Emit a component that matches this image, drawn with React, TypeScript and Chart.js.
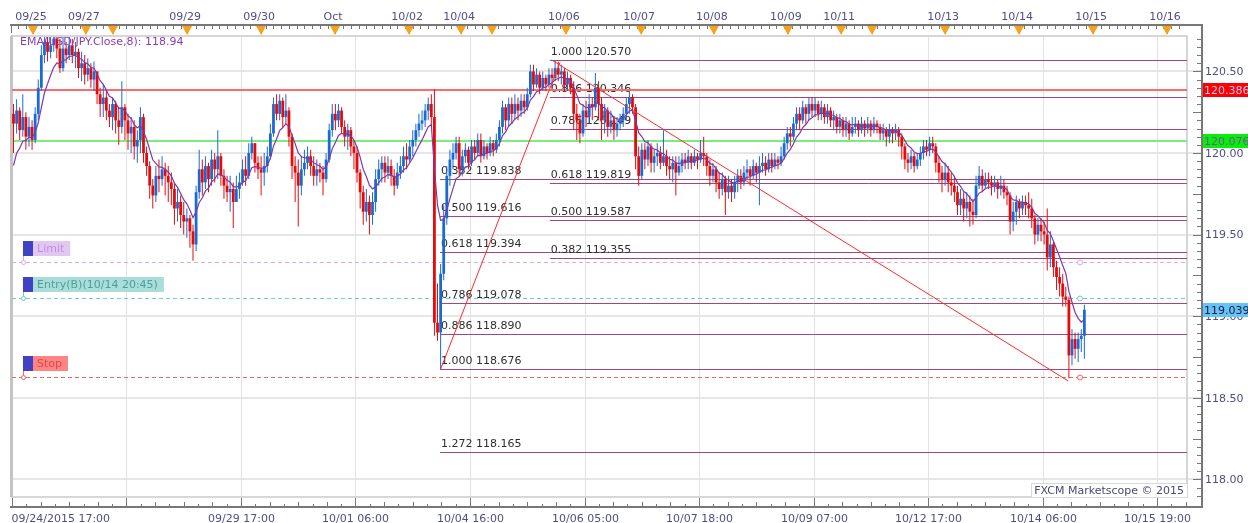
import React, { useEffect, useRef } from 'react';
import { Chart, registerables } from 'chart.js';
Chart.register(...registerables);

// ---------- DATA (USD/JPY hourly bars) ----------
const firstOpen = 120.24;
const closes = [
120.18,120.26,120.14,120.22,120.10,120.16,120.08,120.24,120.40,120.60,
120.68,120.62,120.66,120.70,120.64,120.52,120.64,120.60,120.66,120.60,
120.62,120.52,120.55,120.48,120.52,120.45,120.50,120.36,120.30,120.34,
120.26,120.22,120.30,120.20,120.16,120.28,120.20,120.12,120.16,120.04,
120.08,120.22,120.00,119.92,119.80,119.74,119.86,119.84,119.90,119.86,
119.82,119.78,119.66,119.70,119.62,119.58,119.60,119.52,119.44,119.76,
119.90,119.82,119.92,119.84,119.96,119.90,119.98,119.86,119.80,119.76,
119.78,119.70,119.78,119.82,119.90,119.86,120.00,120.06,119.94,119.90,
119.88,119.92,119.98,120.12,120.30,120.24,120.32,120.22,120.26,120.10,
119.92,119.88,119.80,119.90,119.94,119.98,119.92,119.86,119.90,119.88,
119.84,119.96,120.14,120.24,120.20,120.26,120.16,120.10,120.14,120.04,
120.00,119.88,119.76,119.64,119.70,119.62,119.70,119.84,119.90,119.94,
119.88,119.92,119.86,119.80,119.88,119.92,119.98,119.96,120.04,120.08,
120.14,120.18,120.20,120.26,120.30,120.22,118.96,118.90,119.26,119.60,
119.86,119.96,120.00,120.06,119.90,119.98,120.02,119.94,120.04,120.00,
120.08,119.98,120.04,120.00,120.06,120.02,120.08,120.16,120.28,120.20,
120.30,120.24,120.30,120.26,120.32,120.28,120.36,120.50,120.42,120.48,
120.40,120.46,120.42,120.48,120.46,120.52,120.48,120.50,120.42,120.46,
120.40,120.24,120.20,120.12,120.26,120.22,120.30,120.28,120.40,120.30,
120.20,120.26,120.16,120.20,120.14,120.18,120.20,120.24,120.30,120.34,
120.28,119.98,119.86,120.02,119.96,120.04,119.94,119.98,120.00,119.94,
119.98,119.92,119.90,119.94,119.88,119.92,119.96,119.94,119.98,119.94,
119.98,119.96,120.00,119.98,119.92,119.86,119.90,119.82,119.78,119.84,
119.76,119.80,119.76,119.82,119.86,119.82,119.88,119.90,119.86,119.92,
119.88,119.92,119.94,119.90,119.96,119.92,119.96,119.94,119.98,120.06,
120.12,120.10,120.18,120.24,120.20,120.28,120.24,120.30,120.26,120.30,
120.24,120.28,120.22,120.26,120.20,120.22,120.16,120.20,120.14,120.18,
120.12,120.16,120.18,120.14,120.18,120.15,120.18,120.14,120.18,120.16,
120.12,120.14,120.10,120.14,120.12,120.14,120.10,120.04,119.96,119.94,
119.98,119.92,119.96,120.00,120.04,120.02,120.06,120.04,119.94,119.88,
119.84,119.88,119.82,119.80,119.76,119.68,119.72,119.66,119.70,119.64,
119.62,119.80,119.86,119.80,119.84,119.82,119.80,119.82,119.78,119.80,
119.76,119.74,119.58,119.64,119.70,119.66,119.70,119.68,119.66,119.60,
119.50,119.56,119.52,119.50,119.36,119.44,119.30,119.24,119.20,119.12,
119.10,118.76,118.86,118.80,118.86,118.88,119.039];
const highs = [
120.30,120.33,120.28,120.36,120.25,120.22,120.20,120.28,120.45,120.66,
120.75,120.72,120.74,120.76,120.72,120.70,120.72,120.68,120.72,120.70,
120.68,120.64,120.62,120.60,120.58,120.55,120.56,120.50,120.40,120.42,
120.38,120.30,120.34,120.32,120.28,120.44,120.30,120.24,120.22,120.20,
120.14,120.28,120.24,120.04,119.95,119.84,119.92,119.96,119.98,119.94,
119.92,119.88,119.82,119.78,119.74,119.70,119.66,119.62,119.56,119.80,
120.02,119.96,119.98,119.94,120.02,120.00,120.14,120.00,119.90,119.86,
119.86,119.82,119.86,119.88,119.96,119.98,120.06,120.10,120.06,119.98,
119.98,120.00,120.04,120.18,120.34,120.36,120.36,120.34,120.36,120.28,
120.12,119.98,119.96,119.98,120.02,120.04,120.02,119.98,119.96,119.94,
119.92,120.00,120.18,120.30,120.30,120.30,120.28,120.20,120.18,120.16,
120.08,120.04,119.90,119.80,119.78,119.74,119.76,119.90,119.96,119.98,
119.98,119.98,119.96,119.90,119.94,119.98,120.04,120.06,120.08,120.14,
120.18,120.24,120.26,120.30,120.34,120.36,120.39,119.20,119.32,119.68,
119.92,120.02,120.06,120.10,120.10,120.02,120.06,120.04,120.08,120.08,
120.12,120.12,120.08,120.06,120.10,120.08,120.12,120.20,120.32,120.30,
120.34,120.34,120.36,120.34,120.36,120.36,120.40,120.54,120.54,120.52,
120.50,120.50,120.48,120.52,120.52,120.57,120.56,120.54,120.52,120.50,
120.48,120.44,120.30,120.24,120.30,120.32,120.36,120.34,120.49,120.44,
120.34,120.30,120.28,120.26,120.22,120.22,120.24,120.28,120.34,120.38,
120.36,120.30,120.04,120.06,120.06,120.08,120.06,120.02,120.06,120.04,
120.14,120.02,119.98,119.98,119.98,119.98,120.00,120.00,120.02,120.00,
120.02,120.00,120.08,120.10,120.00,119.96,119.94,119.92,119.88,119.88,
119.86,119.86,119.84,119.86,119.90,119.90,119.92,119.96,119.92,119.96,
119.94,119.98,120.00,119.98,120.00,120.00,120.00,119.98,120.04,120.10,
120.16,120.16,120.22,120.28,120.28,120.32,120.30,120.34,120.34,120.34,
120.32,120.32,120.30,120.30,120.28,120.26,120.24,120.24,120.22,120.22,
120.20,120.22,120.22,120.20,120.22,120.20,120.22,120.20,120.22,120.20,
120.18,120.18,120.16,120.18,120.16,120.18,120.16,120.12,120.06,120.00,
120.02,120.00,120.00,120.04,120.08,120.08,120.10,120.10,120.06,119.98,
119.92,119.94,119.92,119.88,119.86,119.80,119.78,119.76,119.76,119.74,
119.72,119.86,119.92,119.90,119.88,119.88,119.86,119.86,119.84,119.86,
119.84,119.80,119.76,119.70,119.74,119.72,119.74,119.74,119.76,119.72,
119.62,119.60,119.60,119.58,119.66,119.52,119.46,119.34,119.30,119.26,
119.18,119.12,118.92,118.90,118.90,118.92,119.07];
const lows = [
120.00,120.12,120.08,120.10,120.02,120.04,120.02,120.06,120.20,120.38,
120.55,120.56,120.58,120.62,120.58,120.49,120.50,120.55,120.57,120.55,
120.52,120.46,120.44,120.42,120.44,120.40,120.38,120.30,120.22,120.22,
120.20,120.16,120.14,120.12,120.05,120.12,120.08,120.02,120.00,119.96,
119.94,120.00,119.94,119.86,119.72,119.66,119.70,119.76,119.80,119.74,
119.70,119.68,119.56,119.58,119.54,119.50,119.48,119.42,119.34,119.40,
119.72,119.74,119.78,119.76,119.80,119.82,119.84,119.80,119.72,119.70,
119.64,119.54,119.70,119.72,119.80,119.80,119.84,119.96,119.88,119.84,
119.74,119.80,119.88,119.96,120.10,120.20,120.20,120.16,120.18,120.04,
119.84,119.70,119.55,119.74,119.86,119.90,119.86,119.80,119.80,119.82,
119.74,119.82,119.94,120.10,120.14,120.16,120.12,120.04,120.02,119.98,
119.90,119.82,119.66,119.56,119.58,119.50,119.56,119.64,119.80,119.82,
119.82,119.84,119.80,119.74,119.78,119.84,119.88,119.90,119.94,119.98,
120.04,120.10,120.14,120.16,120.20,120.16,118.88,118.85,118.676,119.22,
119.56,119.80,119.90,119.96,119.86,119.86,119.94,119.90,119.92,119.96,
119.98,119.94,119.96,119.96,119.98,119.98,120.00,120.04,120.12,120.14,
120.16,120.18,120.20,120.20,120.22,120.24,120.26,120.34,120.38,120.40,
120.36,120.38,120.38,120.40,120.40,120.44,120.44,120.42,120.38,120.38,
120.36,120.14,120.08,120.06,120.10,120.16,120.18,120.20,120.26,120.20,
120.08,120.12,120.10,120.12,120.08,120.10,120.14,120.16,120.20,120.24,
120.24,119.90,119.80,119.84,119.90,119.92,119.88,119.88,119.92,119.90,
119.92,119.86,119.84,119.82,119.74,119.86,119.88,119.90,119.90,119.90,
119.92,119.90,119.94,119.92,119.86,119.80,119.82,119.76,119.72,119.74,
119.62,119.72,119.70,119.72,119.76,119.78,119.80,119.84,119.80,119.84,
119.82,119.68,119.88,119.86,119.88,119.88,119.90,119.90,119.92,119.96,
120.02,120.04,120.08,120.14,120.14,120.18,120.18,120.20,120.22,120.22,
120.20,120.20,120.18,120.18,120.16,120.14,120.12,120.12,120.10,120.10,
120.08,120.10,120.12,120.10,120.12,120.10,120.12,120.10,120.12,120.12,
120.08,120.08,120.04,120.06,120.06,120.08,120.04,119.96,119.90,119.88,
119.90,119.88,119.90,119.92,119.96,119.98,119.98,120.00,119.88,119.82,
119.76,119.80,119.76,119.74,119.70,119.62,119.62,119.58,119.60,119.55,
119.56,119.60,119.78,119.76,119.78,119.78,119.74,119.76,119.72,119.74,
119.72,119.68,119.50,119.52,119.56,119.60,119.62,119.62,119.60,119.54,
119.44,119.46,119.46,119.44,119.28,119.30,119.24,119.16,119.12,119.06,
119.06,118.62,118.70,118.74,118.72,118.78,118.74];

const emaPeriod = 8;
const emaSeed = 119.85;
const emaLabel = 'EMA(USD/JPY.Close,8): 118.94';

const fibALevels = ['0.382', '0.500', '0.618', '0.786', '0.886', '1.000', '1.272'];
const fibAPrices = [119.838, 119.616, 119.394, 119.078, 118.890, 118.676, 118.165];
const fibAStartBar = 137.8;
const fibBLevels = ['1.000', '0.886', '0.786', '0.618', '0.500', '0.382'];
const fibBPrices = [120.570, 120.346, 120.149, 119.819, 119.587, 119.355];
const fibBStartBar = 173.3;
const trendA = [{ x: 138, y: 118.676 }, { x: 176.6, y: 120.556 }];
const trendB = [{ x: 173.9, y: 120.570 }, { x: 340.7, y: 118.604 }];

const redLinePrice = 120.386;
const greenLinePrice = 120.076;
const lastPrice = 119.039;

const orderNames = ['Limit', 'Entry(B)(10/14 20:45)', 'Stop'];
const orderPrices = [119.33, 119.11, 118.627];
const orderMarkerBar = 344.6;

const yTickValues = [118.0, 118.5, 119.0, 119.5, 120.0, 120.5];
const yTickLabels = ['118.00', '118.50', '119.00', '119.50', '120.00', '120.50'];

const bottomTickBars = [-0.5, 36.5, 73.5, 110.5, 147.5, 184.5, 221.5, 258.5, 295.5, 332.5, 369.5];
const bottomTickLabels = ['09/24/2015 17:00', '', '09/29 17:00', '10/01 06:00', '10/04 16:00', '10/06 05:00',
  '10/07 18:00', '10/09 07:00', '10/12 17:00', '10/14 06:00', '10/15 19:00'];

const topMarkerBars = [6.3, 23.4, 32.1, 56.1, 80.0, 103.9, 127.8, 144.6, 154.6, 178.5, 202.8, 226.3,
  250.2, 267.4, 277.4, 301.0, 324.9, 348.8, 372.7];
const topMarkerLabels = ['09/25', '09/27', '', '09/29', '09/30', 'Oct', '10/02', '10/04', '', '10/06', '10/07',
  '10/08', '10/09', '10/11', '', '10/13', '10/14', '10/15', '10/16'];

// ---------- STYLE ----------
const FONT = '11px "DejaVu Sans", Verdana, sans-serif';
const upColor = '#1a6ad4';
const downColor = '#e80a0a';
const axisText = '#4e4e88';
const fibColor = '#a3467a';
const orderLineColors = ['#d6a6f0', '#6ccccc', '#f06464'];
const orderBoxBg = ['#e2c8f0', '#a9ddd8', '#ff8585'];
const orderBoxText = ['#c08ee0', '#4f9f9f', '#e04a4a'];

export default function App() {
  const ref = useRef<HTMLCanvasElement>(null);

  useEffect(() => {
    const canvas = ref.current;
    if (!canvas) return;
    const opens = closes.map((c, i) => (i === 0 ? firstOpen : closes[i - 1]));
    const colors = closes.map((c, i) => (c >= opens[i] ? upColor : downColor));
    const ema: number[] = [];
    let prev = emaSeed;
    const k = 2 / (emaPeriod + 1);
    closes.forEach((c) => { prev = prev + k * (c - prev); ema.push(prev); });

    const overlay = {
      id: 'overlay',
      beforeDraw(chart: any) {
        const ctx = chart.ctx;
        ctx.save();
        ctx.fillStyle = '#ffffff';
        ctx.fillRect(0, 0, chart.width, chart.height);
        ctx.restore();
      },
      beforeDatasetsDraw(chart: any) {
        const { ctx, chartArea: a, scales } = chart;
        const X = (v: number) => scales.x.getPixelForValue(v);
        const Y = (v: number) => scales.y.getPixelForValue(v);
        const axisX = a.right + 15;
        ctx.save();
        // horizontal grid
        ctx.strokeStyle = '#e6e6e6';
        ctx.lineWidth = 2;
        yTickValues.forEach((v) => {
          const py = Math.round(Y(v));
          ctx.beginPath(); ctx.moveTo(a.left, py); ctx.lineTo(axisX, py); ctx.stroke();
        });
        // vertical grid
        ctx.strokeStyle = '#e2e2e2';
        ctx.lineWidth = 1;
        bottomTickBars.slice(1).forEach((b) => {
          const px = Math.round(X(b)) + 0.5;
          ctx.beginPath(); ctx.moveTo(px, a.top); ctx.lineTo(px, a.bottom); ctx.stroke();
        });
        // frame
        ctx.strokeStyle = '#d6d6d6';
        ctx.lineWidth = 2;
        ctx.strokeRect(a.left, a.top - 1, a.right - a.left, a.bottom - a.top + 1);
        ctx.strokeStyle = '#c4c4c4';
        ctx.lineWidth = 3;
        ctx.beginPath(); ctx.moveTo(a.left - 0.5, a.top - 1); ctx.lineTo(a.left - 0.5, a.bottom); ctx.stroke();

        // fib lines + labels
        ctx.font = FONT;
        ctx.textBaseline = 'middle';
        ctx.textAlign = 'left';
        const drawFib = (levels: string[], prices: number[], startBar: number) => {
          const sx = X(startBar);
          prices.forEach((p, i) => {
            const py = Math.round(Y(p)) + 0.5;
            ctx.strokeStyle = fibColor;
            ctx.lineWidth = 1;
            ctx.beginPath(); ctx.moveTo(sx, py); ctx.lineTo(a.right, py); ctx.stroke();
            ctx.fillStyle = '#2e2e2e';
            ctx.fillText(levels[i] + ' ' + p.toFixed(3), sx + 1, py - 8);
          });
        };
        drawFib(fibALevels, fibAPrices, fibAStartBar);
        drawFib(fibBLevels, fibBPrices, fibBStartBar);

        // solid horizontal lines
        ctx.lineWidth = 2;
        ctx.strokeStyle = '#ff6a6a';
        let py = Math.round(Y(redLinePrice));
        ctx.beginPath(); ctx.moveTo(a.left, py); ctx.lineTo(a.right, py); ctx.stroke();
        ctx.strokeStyle = '#7ced7c';
        py = Math.round(Y(greenLinePrice));
        ctx.beginPath(); ctx.moveTo(a.left, py); ctx.lineTo(a.right, py); ctx.stroke();

        // order dashed lines
        ctx.lineWidth = 1;
        ctx.setLineDash([4, 3]);
        orderPrices.forEach((p, i) => {
          const yy = Math.round(Y(p)) + 0.5;
          ctx.strokeStyle = orderLineColors[i];
          ctx.beginPath(); ctx.moveTo(a.left, yy); ctx.lineTo(a.right, yy); ctx.stroke();
        });
        ctx.setLineDash([]);
        ctx.restore();
      },
      afterDatasetsDraw(chart: any) {
        const { ctx, chartArea: a, scales } = chart;
        const X = (v: number) => scales.x.getPixelForValue(v);
        const Y = (v: number) => scales.y.getPixelForValue(v);
        const axisX = a.right + 15;
        const topAxisY = 25;
        const bottomAxisY = 507;
        ctx.save();
        ctx.font = FONT;
        ctx.textBaseline = 'middle';

        // EMA label
        ctx.fillStyle = '#8a3fb0';
        ctx.textAlign = 'left';
        ctx.fillText(emaLabel, a.left + 8, 42);

        // order boxes
        orderNames.forEach((name, i) => {
          const yy = Math.round(Y(orderPrices[i])) + 0.5;
          const bx = a.left + 11;
          const bBottom = yy - 6.5;
          const bTop = bBottom - 15;
          const tw = ctx.measureText(name).width;
          ctx.fillStyle = orderBoxBg[i];
          ctx.fillRect(bx + 10, bTop, tw + 10, 15);
          ctx.fillStyle = '#4141c4';
          ctx.fillRect(bx, bTop, 10, 15);
          ctx.fillStyle = orderBoxText[i];
          ctx.fillText(name, bx + 14, bTop + 8);
          ctx.strokeStyle = orderLineColors[i];
          ctx.lineWidth = 1;
          ctx.beginPath(); ctx.moveTo(bx + 0.5, bBottom); ctx.lineTo(bx + 0.5, yy - 2); ctx.stroke();
          ctx.beginPath(); ctx.arc(bx + 0.5, yy, 2, 0, Math.PI * 2); ctx.fillStyle = '#fff'; ctx.fill(); ctx.stroke();
          ctx.beginPath(); ctx.arc(X(orderMarkerBar), yy, 2.5, 0, Math.PI * 2); ctx.fill(); ctx.stroke();
        });

        // FXCM box
        ctx.fillStyle = '#ffffff';
        ctx.fillRect(a.right - 156, a.bottom - 14, 156, 14);
        ctx.strokeStyle = '#d8d8d8';
        ctx.lineWidth = 1;
        ctx.strokeRect(a.right - 156 + 0.5, a.bottom - 14 + 0.5, 156, 14);
        ctx.fillStyle = '#4a4a70';
        ctx.textAlign = 'right';
        ctx.fillText('FXCM Marketscope \u00a9 2015', a.right - 3, a.bottom - 6);

        // top axis
        ctx.strokeStyle = '#777777';
        ctx.lineWidth = 2;
        ctx.beginPath(); ctx.moveTo(a.left - 2, topAxisY); ctx.lineTo(axisX + 1, topAxisY); ctx.stroke();
        ctx.lineWidth = 1;
        ctx.beginPath(); ctx.moveTo(a.left - 0.5, topAxisY); ctx.lineTo(a.left - 0.5, topAxisY + 8); ctx.stroke();
        for (let b = 1.5; b < 379; b += 2.5) {
          const px = Math.round(X(b)) + 0.5;
          ctx.beginPath(); ctx.moveTo(px, topAxisY); ctx.lineTo(px, topAxisY + 4); ctx.stroke();
        }
        ctx.textAlign = 'center';
        topMarkerBars.forEach((b, i) => {
          const px = X(b);
          ctx.strokeStyle = '#777777';
          ctx.beginPath(); ctx.moveTo(Math.round(px) + 0.5, topAxisY); ctx.lineTo(Math.round(px) + 0.5, topAxisY + 9); ctx.stroke();
          ctx.fillStyle = '#f7a21c';
          ctx.beginPath();
          ctx.moveTo(px - 5, topAxisY + 1); ctx.lineTo(px + 5, topAxisY + 1); ctx.lineTo(px, topAxisY + 10);
          ctx.closePath(); ctx.fill();
          if (topMarkerLabels[i]) {
            ctx.fillStyle = axisText;
            ctx.fillText(topMarkerLabels[i], px - 2, 17);
          }
        });

        // right axis
        ctx.strokeStyle = '#777777';
        ctx.lineWidth = 2;
        ctx.beginPath(); ctx.moveTo(axisX, topAxisY - 1); ctx.lineTo(axisX, bottomAxisY + 1); ctx.stroke();
        ctx.lineWidth = 1;
        for (let v = 117.9; v <= 120.71; v += 0.05) {
          const yy = Math.round(Y(v)) + 0.5;
          if (yy < a.top - 10 || yy > a.bottom + 8) continue;
          const major = Math.abs(Math.round(v * 4) - v * 4) < 0.01;
          ctx.beginPath(); ctx.moveTo(axisX - (major ? 9 : 5), yy); ctx.lineTo(axisX, yy); ctx.stroke();
        }
        ctx.textAlign = 'left';
        ctx.fillStyle = axisText;
        yTickValues.forEach((v, i) => {
          ctx.fillText(yTickLabels[i], axisX + 3, Y(v) + 1);
        });
        const badge = (price: number, bg: string, fg: string) => {
          const yy = Math.round(Y(price));
          ctx.fillStyle = bg;
          ctx.fillRect(axisX + 1, yy - 7, 60, 14);
          ctx.fillStyle = fg;
          ctx.fillText(price.toFixed(3), axisX + 2, yy + 1);
        };
        badge(redLinePrice, '#ff0000', '#c9c6f2');
        badge(greenLinePrice, '#00f400', '#9040c0');
        badge(lastPrice, '#63c4f5', '#1a1a40');

        // bottom axis
        ctx.strokeStyle = '#777777';
        ctx.lineWidth = 2;
        ctx.beginPath(); ctx.moveTo(a.left - 2, bottomAxisY); ctx.lineTo(axisX + 1, bottomAxisY); ctx.stroke();
        ctx.lineWidth = 1;
        bottomTickBars.forEach((b, i) => {
          const px = Math.round(X(b)) + 0.5;
          ctx.beginPath(); ctx.moveTo(px, bottomAxisY - 9); ctx.lineTo(px, bottomAxisY); ctx.stroke();
          for (let m = 1; m < 8; m++) {
            const mb = b + (37 / 8) * m;
            if (mb > 379) break;
            const mx = Math.round(X(mb)) + 0.5;
            ctx.beginPath(); ctx.moveTo(mx, bottomAxisY - (m % 2 === 0 ? 5 : 3)); ctx.lineTo(mx, bottomAxisY); ctx.stroke();
          }
          const lbl = bottomTickLabels[i];
          if (lbl) {
            ctx.fillStyle = axisText;
            if (i === 0) { ctx.textAlign = 'left'; ctx.fillText(lbl, px - 1, 519); }
            else { ctx.textAlign = 'center'; ctx.fillText(lbl, px, 519); }
          }
        });
        ctx.restore();
      },
    };

    const chart = new Chart(canvas, {
      type: 'bar',
      data: {
        datasets: [
          {
            type: 'bar',
            data: closes.map((c, i) => ({ x: i, y: [Math.min(lows[i], opens[i], c), Math.max(highs[i], opens[i], c)] })) as any,
            backgroundColor: colors,
            grouped: false,
            maxBarThickness: 1,
            order: 3,
          },
          {
            type: 'bar',
            data: closes.map((c, i) => ({ x: i, y: [opens[i], c] })) as any,
            backgroundColor: colors,
            grouped: false,
            barPercentage: 1,
            categoryPercentage: 0.9,
            maxBarThickness: 2.8,
            minBarLength: 1,
            order: 2,
          },
          {
            type: 'line',
            data: ema.map((v, i) => ({ x: i, y: v })),
            borderColor: '#7b3aa8',
            borderWidth: 1.2,
            pointRadius: 0,
            tension: 0,
            order: 1,
          },
          {
            type: 'line',
            data: trendA,
            borderColor: '#ff2a2a',
            borderWidth: 1,
            pointRadius: 0,
            order: 0,
          },
          {
            type: 'line',
            data: trendB,
            borderColor: '#ff2a2a',
            borderWidth: 1,
            pointRadius: 0,
            order: 0,
          },
        ] as any,
      },
      options: {
        responsive: false,
        animation: false,
        devicePixelRatio: 1,
        events: [],
        layout: { padding: { left: 12, right: 61, top: 37, bottom: 26 } },
        plugins: { legend: { display: false }, tooltip: { enabled: false } },
        scales: {
          x: { type: 'linear', min: -0.4847, max: 379.16, display: false, offset: false },
          y: { type: 'linear', min: 117.8922, max: 120.7108, display: false },
        },
      } as any,
      plugins: [overlay],
    });
    return () => chart.destroy();
  }, []);

  return (
    <div style={{ position: 'absolute', left: 0, top: 0, width: 1248, height: 523, background: '#fff' }}>
      <canvas ref={ref} width={1248} height={523} style={{ display: 'block', width: 1248, height: 523 }} />
    </div>
  );
}
